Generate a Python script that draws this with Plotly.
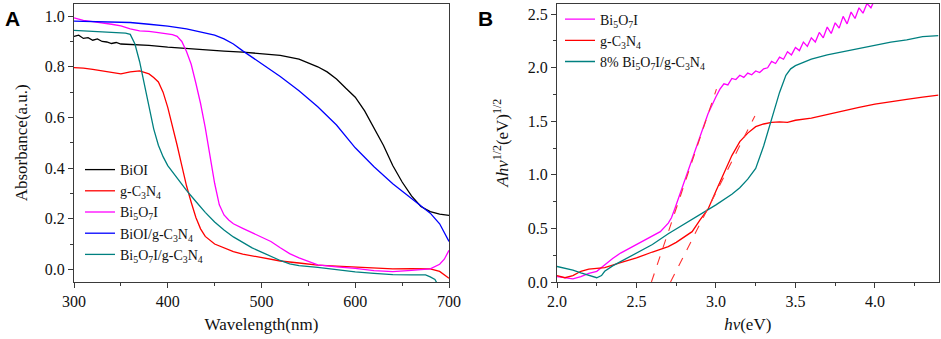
import plotly.graph_objects as go

# ---------------- Panel A data (wavelength, nm) ----------------
biol_nm = [300, 305, 310, 315, 320, 325, 330, 335, 340, 345, 350, 360, 380, 400, 420, 440, 460, 480,
           500, 520, 540, 560, 570, 580, 590, 600, 610, 620, 630, 640, 650, 660, 670, 680, 690, 700]
biol_abs = [0.92, 0.925, 0.912, 0.915, 0.905, 0.91, 0.90, 0.898, 0.892, 0.896, 0.89, 0.889, 0.885, 0.878,
            0.872, 0.866, 0.862, 0.858, 0.852, 0.845, 0.83, 0.80, 0.78, 0.752, 0.715, 0.68, 0.626, 0.56,
            0.49, 0.41, 0.345, 0.29, 0.248, 0.228, 0.218, 0.213]

gcn_nm = [300, 310, 320, 330, 340, 350, 360, 370, 380, 385, 390, 395, 400, 405, 410, 415, 420, 425, 430,
          435, 440, 450, 460, 470, 480, 500, 520, 540, 560, 580, 600, 620, 640, 660, 680, 690, 700]
gcn_abs = [0.797, 0.795, 0.79, 0.784, 0.778, 0.772, 0.78, 0.784, 0.772, 0.758, 0.74, 0.70, 0.64, 0.57,
           0.49, 0.41, 0.33, 0.265, 0.205, 0.16, 0.13, 0.10, 0.085, 0.07, 0.06, 0.045, 0.033, 0.025,
           0.017, 0.013, 0.01, 0.006, 0.002, 0.003, 0.002, -0.008, -0.035]

bi5_nm = [300, 310, 320, 330, 340, 350, 360, 370, 380, 390, 400, 405, 410, 415, 420, 425, 430, 435, 440,
          445, 450, 455, 460, 465, 470, 480, 490, 500, 510, 520, 530, 540, 550, 560, 580, 600, 620, 640,
          660, 680, 690, 695, 700]
bi5_abs = [0.993, 0.983, 0.978, 0.974, 0.968, 0.962, 0.95, 0.942, 0.94, 0.935, 0.93, 0.927, 0.92, 0.90,
           0.86, 0.81, 0.735, 0.655, 0.56, 0.45, 0.34, 0.255, 0.215, 0.195, 0.18, 0.162, 0.145, 0.127,
           0.11, 0.085, 0.062, 0.045, 0.03, 0.018, 0.01, 0.004, -0.005, -0.009, -0.004, 0.002, 0.02,
           0.04, 0.075]

biol_gcn_nm = [300, 320, 340, 360, 380, 400, 420, 440, 450, 460, 470, 480, 490, 500, 520, 540, 560, 580,
               600, 620, 640, 660, 680, 690, 700]
biol_gcn_abs = [0.98, 0.978, 0.976, 0.975, 0.968, 0.961, 0.95, 0.935, 0.925, 0.91, 0.89, 0.863, 0.838,
                0.812, 0.762, 0.705, 0.642, 0.57, 0.48, 0.405, 0.338, 0.28, 0.222, 0.18, 0.11]

bi5_gcn_nm = [300, 320, 340, 355, 360, 365, 370, 375, 380, 385, 390, 395, 400, 410, 420, 430, 440, 450,
              460, 470, 480, 490, 500, 510, 520, 530, 540, 560, 580, 600, 620, 640, 660, 675, 680, 685, 688]
bi5_gcn_abs = [0.944, 0.94, 0.937, 0.933, 0.928, 0.89, 0.82, 0.73, 0.645, 0.555, 0.49, 0.445, 0.41,
               0.36, 0.312, 0.268, 0.225, 0.187, 0.155, 0.128, 0.105, 0.085, 0.068, 0.05, 0.035, 0.022,
               0.015, 0.008, -0.002, -0.01, -0.016, -0.021, -0.022, -0.022, -0.03, -0.04, -0.06]

# ---------------- Panel B data (photon energy, eV) ----------------
b_bi5_ev = [2.0, 2.05, 2.1, 2.15, 2.2, 2.25, 2.3, 2.35, 2.4, 2.45, 2.5, 2.55, 2.6, 2.65, 2.7, 2.72, 2.74,
            2.77, 2.8, 2.85, 2.9, 2.95, 3.0, 3.025, 3.05, 3.075, 3.1, 3.125, 3.15, 3.175, 3.2, 3.225,
            3.25, 3.275, 3.3, 3.325, 3.35, 3.375, 3.4, 3.425, 3.45, 3.475, 3.5, 3.525, 3.55, 3.575, 3.6,
            3.625, 3.65, 3.675, 3.7, 3.725, 3.75, 3.775, 3.8, 3.825, 3.85, 3.875, 3.9, 3.925, 3.95,
            3.975, 4.0]
b_bi5_val = [0.05, 0.04, 0.03, 0.05, 0.08, 0.10, 0.16, 0.22, 0.27, 0.31, 0.355, 0.39, 0.43, 0.47, 0.55,
             0.60, 0.68, 0.81, 0.94, 1.15, 1.37, 1.57, 1.73, 1.80, 1.85, 1.84, 1.90, 1.89, 1.93, 1.91,
             1.95, 1.935, 1.97, 1.955, 1.99, 2.0, 2.06, 2.04, 2.10, 2.08, 2.15, 2.12, 2.19, 2.16, 2.24,
             2.20, 2.28, 2.24, 2.33, 2.28, 2.38, 2.32, 2.42, 2.37, 2.48, 2.41, 2.52, 2.46, 2.56, 2.51,
             2.60, 2.56, 2.64]

b_gcn_ev = [2.0, 2.05, 2.1, 2.15, 2.2, 2.3, 2.4, 2.5, 2.6, 2.7, 2.75, 2.8, 2.85, 2.9, 2.95, 3.0, 3.05,
            3.1, 3.15, 3.2, 3.25, 3.3, 3.35, 3.4, 3.45, 3.5, 3.6, 3.7, 3.8, 3.9, 4.0, 4.1, 4.2, 4.3, 4.4]
b_gcn_val = [0.06, 0.04, 0.06, 0.10, 0.12, 0.135, 0.18, 0.225, 0.28, 0.33, 0.37, 0.42, 0.47, 0.58, 0.68,
             0.85, 1.02, 1.18, 1.31, 1.39, 1.45, 1.475, 1.49, 1.495, 1.49, 1.51, 1.53, 1.565, 1.60, 1.63,
             1.66, 1.685, 1.705, 1.725, 1.745]

b_comp_ev = [2.0, 2.05, 2.1, 2.15, 2.2, 2.25, 2.28, 2.3, 2.35, 2.4, 2.5, 2.6, 2.7, 2.8, 2.9, 3.0, 3.1,
             3.15, 3.2, 3.25, 3.3, 3.35, 3.4, 3.44, 3.47, 3.5, 3.6, 3.7, 3.8, 3.9, 4.0, 4.1, 4.2, 4.3, 4.4]
b_comp_val = [0.145, 0.13, 0.11, 0.085, 0.065, 0.04, 0.06, 0.10, 0.15, 0.19, 0.27, 0.35, 0.45, 0.54,
              0.63, 0.72, 0.82, 0.88, 0.96, 1.06, 1.27, 1.53, 1.77, 1.93, 1.99, 2.02, 2.08, 2.12, 2.15,
              2.18, 2.21, 2.24, 2.26, 2.29, 2.30]

# tangent (band-gap extrapolation) lines
tan1_ev = [2.594, 3.003]
tan1_val = [0.0, 1.80]
tan2_ev = [2.714, 3.245]
tan2_val = [0.0, 1.55]

SERIF = "Liberation Serif"
AXC = "#3a3a3a"
LW = 1.3

fig = go.Figure()

def add(x, y, name, color, xa, ya, legend, show=True, dash=None):
    fig.add_trace(go.Scatter(x=x, y=y, mode="lines", name=name, xaxis=xa, yaxis=ya,
                             line=dict(color=color, width=LW if dash is None else 1.1, dash=dash),
                             legend=legend, showlegend=show))

add(biol_nm, biol_abs, "BiOI", "#000000", "x", "y", "legend")
add(gcn_nm, gcn_abs, "g-C<sub>3</sub>N<sub>4</sub>", "#ff0000", "x", "y", "legend")
add(bi5_nm, bi5_abs, "Bi<sub>5</sub>O<sub>7</sub>I", "#ff00ff", "x", "y", "legend")
add(biol_gcn_nm, biol_gcn_abs, "BiOI/g-C<sub>3</sub>N<sub>4</sub>", "#0000ff", "x", "y", "legend")
add(bi5_gcn_nm, bi5_gcn_abs, "Bi<sub>5</sub>O<sub>7</sub>I/g-C<sub>3</sub>N<sub>4</sub>", "#008080", "x", "y", "legend")

add(b_bi5_ev, b_bi5_val, "Bi<sub>5</sub>O<sub>7</sub>I", "#ff00ff", "x2", "y2", "legend2")
add(b_gcn_ev, b_gcn_val, "g-C<sub>3</sub>N<sub>4</sub>", "#ff0000", "x2", "y2", "legend2")
add(b_comp_ev, b_comp_val, "8% Bi<sub>5</sub>O<sub>7</sub>I/g-C<sub>3</sub>N<sub>4</sub>", "#008080", "x2", "y2", "legend2")
add(tan1_ev, tan1_val, "tan1", "#ff3030", "x2", "y2", "legend2", show=False, dash="dash")
add(tan2_ev, tan2_val, "tan2", "#ff3030", "x2", "y2", "legend2", show=False, dash="dash")

W, H = 941, 339
ydom = [1 - 282 / H, 1 - 3.5 / H]

def axis_common():
    return dict(showline=True, linecolor=AXC, linewidth=1, mirror=True, ticks="outside", ticklen=5,
                tickcolor=AXC, tickwidth=1, showgrid=False, zeroline=False, automargin=False,
                tickfont=dict(family=SERIF, size=16, color="#111"))

xa = axis_common()
xa.update(domain=[74 / W, 449 / W], range=[300, 700], dtick=100, tick0=300,
          minor=dict(dtick=50, ticks="outside", ticklen=3, tickcolor=AXC),
          title=dict(text="Wavelength(nm)", font=dict(family=SERIF, size=17, color="#111"), standoff=8))
ya = axis_common()
ya.update(domain=ydom, range=[-0.05, 1.05], dtick=0.2, tick0=0, tickformat=".1f",
          minor=dict(dtick=0.1, ticks="outside", ticklen=3, tickcolor=AXC),
          title=dict(text="Absorbance(a.u.)", font=dict(family=SERIF, size=17, color="#111"), standoff=12))
xb = axis_common()
xb.update(domain=[557 / W, 938.5 / W], range=[2.0, 4.4], dtick=0.5, tick0=2.0, tickformat=".1f",
          anchor="y2",
          minor=dict(dtick=0.25, ticks="outside", ticklen=3, tickcolor=AXC),
          title=dict(text="<i>hv</i>(eV)", font=dict(family=SERIF, size=17, color="#111"), standoff=8))
yb = axis_common()
yb.update(domain=ydom, range=[0, 2.6], dtick=0.5, tick0=0, tickformat=".1f", anchor="x2",
          minor=dict(dtick=0.25, ticks="outside", ticklen=3, tickcolor=AXC),
          title=dict(text="<i>Ahv</i><sup>1/2</sup>(eV)<sup>1/2</sup>",
                     font=dict(family=SERIF, size=17, color="#111"), standoff=14))

fig.update_layout(
    width=W, height=H, margin=dict(l=0, r=0, t=0, b=0),
    paper_bgcolor="white", plot_bgcolor="white",
    xaxis=xa, yaxis=ya, xaxis2=xb, yaxis2=yb,
    legend=dict(x=80 / W, y=1 - 154 / H, xanchor="left", yanchor="top", bgcolor="rgba(0,0,0,0)",
                font=dict(family=SERIF, size=14, color="#111"), tracegroupgap=0, itemwidth=30),
    legend2=dict(x=560 / W, y=1 - 3.5 / H, xanchor="left", yanchor="top", bgcolor="rgba(0,0,0,0)",
                 font=dict(family=SERIF, size=14, color="#111"), tracegroupgap=0, itemwidth=30),
    annotations=[
        dict(text="<b>A</b>", x=3 / W, y=1 - 5 / H, xref="paper", yref="paper", xanchor="left",
             yanchor="top", showarrow=False, font=dict(family="Liberation Sans", size=21, color="#000")),
        dict(text="<b>B</b>", x=476 / W, y=1 - 5 / H, xref="paper", yref="paper", xanchor="left",
             yanchor="top", showarrow=False, font=dict(family="Liberation Sans", size=21, color="#000")),
    ],
)

fig.write_html("out.html", config={"displayModeBar": False},
               post_script="document.body.style.margin='0';document.body.style.overflow='hidden';")
